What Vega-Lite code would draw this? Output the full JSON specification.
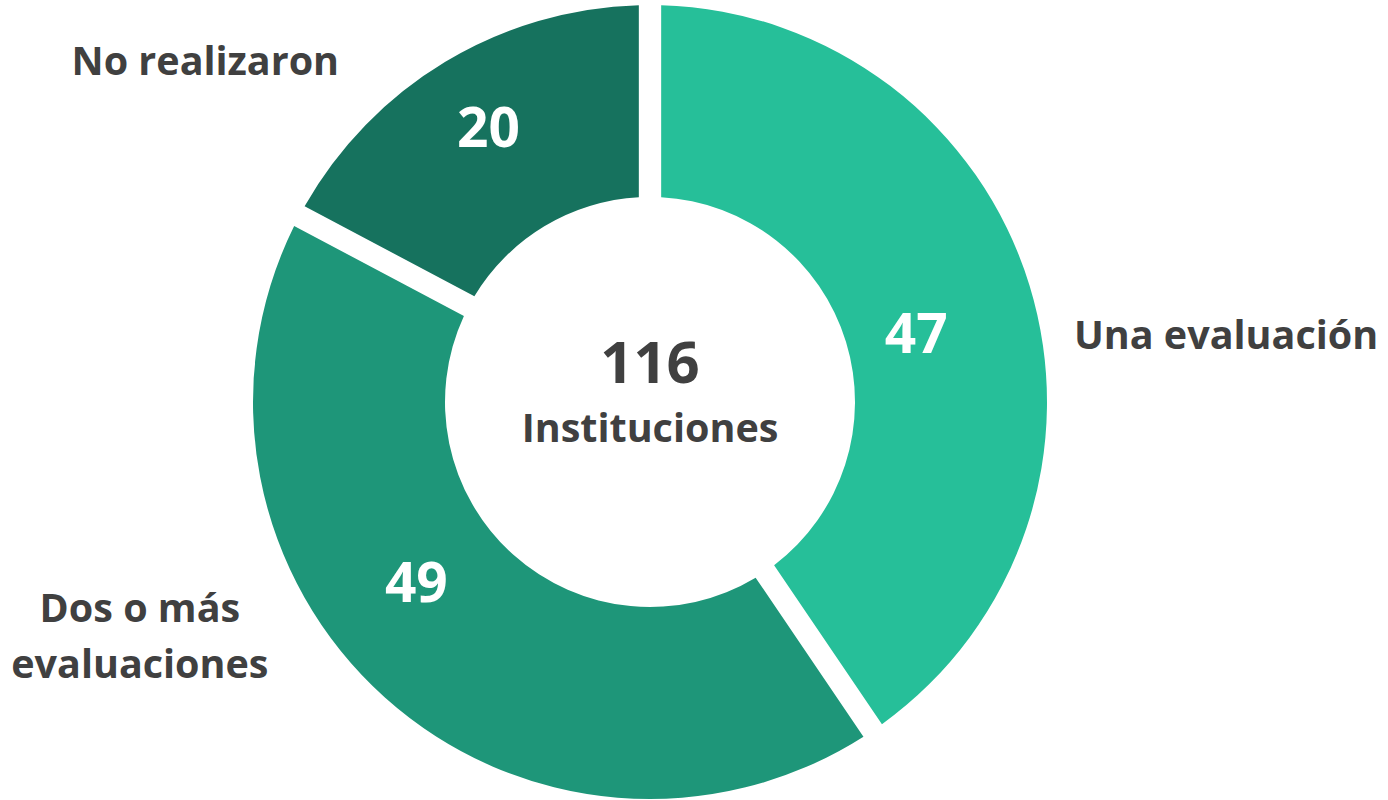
{
  "$schema": "https://vega.github.io/schema/vega-lite/v6.json",
  "autosize": "none",
  "width": 1300,
  "height": 796,
  "padding": {"left": 0, "right": 88, "top": 4, "bottom": 0},
  "background": "white",
  "view": {"stroke": null},
  "layer": [
    {
      "data": {
        "values": [
          {"categoria": "Una evaluación", "valor": 47, "orden": 1},
          {"categoria": "Dos o más evaluaciones", "valor": 49, "orden": 2},
          {"categoria": "No realizaron", "valor": 20, "orden": 3}
        ]
      },
      "transform": [
        {"stack": "valor", "groupby": [], "sort": [{"field": "orden", "order": "ascending"}], "as": ["v0", "v1"]},
        {"calculate": "(datum.v0 + datum.v1) / 2", "as": "medio"}
      ],
      "layer": [
        {
          "mark": {"type": "arc", "outerRadius": 397, "innerRadius": 205, "padAngle": 0.05},
          "encoding": {
            "theta": {"field": "v0", "type": "quantitative", "scale": {"domain": [0, 116]}},
            "theta2": {"field": "v1"},
            "color": {
              "field": "categoria",
              "type": "nominal",
              "scale": {
                "domain": ["Una evaluación", "Dos o más evaluaciones", "No realizaron"],
                "range": ["#26BF99", "#1E9679", "#16725E"]
              },
              "legend": null
            }
          }
        },
        {
          "transform": [{"filter": "datum.categoria === 'Una evaluación'"}],
          "mark": {"type": "text", "radius": 290, "font": "Open Sans", "fontWeight": "bold", "fontSize": 55, "fill": "white", "baseline": "middle", "align": "center", "dx": -11, "dy": 19},
          "encoding": {
            "theta": {"field": "medio", "type": "quantitative"},
            "text": {"field": "valor", "type": "quantitative"}
          }
        },
        {
          "transform": [{"filter": "datum.categoria === 'Dos o más evaluaciones'"}],
          "mark": {"type": "text", "radius": 290, "font": "Open Sans", "fontWeight": "bold", "fontSize": 55, "fill": "white", "baseline": "middle", "align": "center", "dx": -40, "dy": -33},
          "encoding": {
            "theta": {"field": "medio", "type": "quantitative"},
            "text": {"field": "valor", "type": "quantitative"}
          }
        },
        {
          "transform": [{"filter": "datum.categoria === 'No realizaron'"}],
          "mark": {"type": "text", "radius": 290, "font": "Open Sans", "fontWeight": "bold", "fontSize": 55, "fill": "white", "baseline": "middle", "align": "center", "dx": -12, "dy": -24},
          "encoding": {
            "theta": {"field": "medio", "type": "quantitative"},
            "text": {"field": "valor", "type": "quantitative"}
          }
        },
        {
          "transform": [{"filter": "datum.categoria === 'Una evaluación'"}],
          "mark": {"type": "text", "radius": 430, "font": "Open Sans", "fontWeight": "bold", "fontSize": 39.5, "fill": "#404040", "baseline": "middle", "align": "center", "dx": 165, "dy": 61},
          "encoding": {
            "theta": {"field": "medio", "type": "quantitative"},
            "text": {"field": "categoria", "type": "nominal"}
          }
        },
        {
          "transform": [{"filter": "datum.categoria === 'Dos o más evaluaciones'"}],
          "mark": {"type": "text", "radius": 430, "font": "Open Sans", "fontWeight": "bold", "fontSize": 39.5, "fill": "#404040", "baseline": "middle", "align": "center", "lineHeight": 56, "dx": -223, "dy": -112},
          "encoding": {
            "theta": {"field": "medio", "type": "quantitative"},
            "text": {"value": ["Dos o más", "evaluaciones"]}
          }
        },
        {
          "transform": [{"filter": "datum.categoria === 'No realizaron'"}],
          "mark": {"type": "text", "radius": 430, "font": "Open Sans", "fontWeight": "bold", "fontSize": 39.5, "fill": "#404040", "baseline": "middle", "align": "center", "dx": -223, "dy": 29},
          "encoding": {
            "theta": {"field": "medio", "type": "quantitative"},
            "text": {"field": "categoria", "type": "nominal"}
          }
        }
      ]
    },
    {
      "data": {"values": [{"total": "116", "etiqueta": "Instituciones"}]},
      "layer": [
        {
          "mark": {"type": "text", "font": "Open Sans", "fontWeight": "bold", "fontSize": 58, "fill": "#404040", "baseline": "middle", "align": "center", "dy": -36},
          "encoding": {"text": {"field": "total", "type": "nominal"}}
        },
        {
          "mark": {"type": "text", "font": "Open Sans", "fontWeight": "bold", "fontSize": 39.5, "fill": "#404040", "baseline": "middle", "align": "center", "dy": 28},
          "encoding": {"text": {"field": "etiqueta", "type": "nominal"}}
        }
      ]
    }
  ]
}
